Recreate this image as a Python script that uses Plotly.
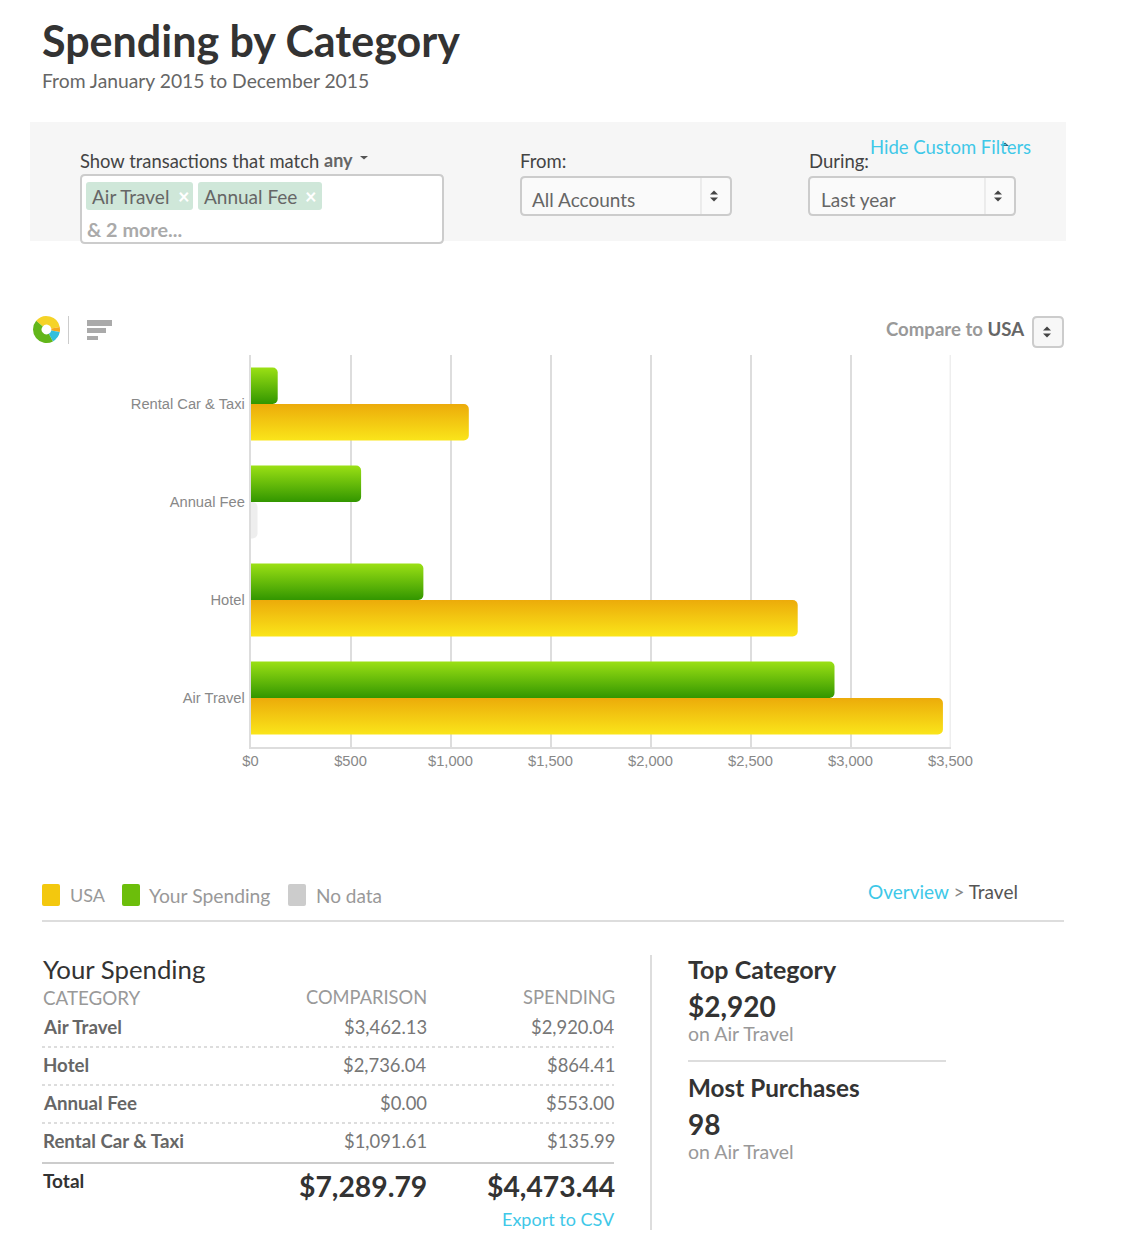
"""Spending by Category: dashboard screenshot rebuilt as one Plotly figure."""

import plotly.graph_objects as go

W, H = 1148, 1260
UI_FONT = "Lato"
CHART_FONT = "Liberation Sans"
CYAN = "#3fc8e8"

categories = ["Air Travel", "Hotel", "Annual Fee", "Rental Car & Taxi"]
usa_values = [3462.13, 2736.04, 0.00, 1091.61]
your_spending = [2920.04, 864.41, 553.00, 135.99]
no_data_values = [None, None, 35, None]
x_ticks = [0, 500, 1000, 1500, 2000, 2500, 3000, 3500]
x_tick_labels = ["$0", "$500", "$1,000", "$1,500", "$2,000", "$2,500", "$3,000", "$3,500"]
usa_total = "$7,289.79"
spending_total = "$4,473.44"
donut_values = [36, 6, 14, 44]
donut_colors = ["#f5d327", "#f5a81c", "#35bfdc", "#62b61a"]


def px(x):
    return x / W


def py(y):
    return 1 - y / H


def money(v):
    return f"${v:,.2f}"


shapes = []
annotations = []


def rect(x0, y0, x1, y1, fill, line=None, lw=0, dash=None, layer="below"):
    shapes.append(dict(
        type="rect", xref="paper", yref="paper", layer=layer,
        x0=px(x0), x1=px(x1), y0=py(y0), y1=py(y1), fillcolor=fill,
        line=dict(color=line or fill, width=lw, dash=dash),
    ))


def round_rect(x0, y0, x1, y1, r, fill, line=None, lw=0):
    pts = [
        f"M{px(x0 + r)},{py(y0)}", f"L{px(x1 - r)},{py(y0)}",
        f"Q{px(x1)},{py(y0)} {px(x1)},{py(y0 + r)}", f"L{px(x1)},{py(y1 - r)}",
        f"Q{px(x1)},{py(y1)} {px(x1 - r)},{py(y1)}", f"L{px(x0 + r)},{py(y1)}",
        f"Q{px(x0)},{py(y1)} {px(x0)},{py(y1 - r)}", f"L{px(x0)},{py(y0 + r)}",
        f"Q{px(x0)},{py(y0)} {px(x0 + r)},{py(y0)}", "Z",
    ]
    shapes.append(dict(
        type="path", xref="paper", yref="paper", layer="below", path=" ".join(pts),
        fillcolor=fill, line=dict(color=line or fill, width=lw),
    ))


def hline(x0, x1, y, color, lw=1, dash=None):
    shapes.append(dict(
        type="line", xref="paper", yref="paper", layer="below",
        x0=px(x0), x1=px(x1), y0=py(y), y1=py(y), line=dict(color=color, width=lw, dash=dash),
    ))


def vline(x, y0, y1, color, lw=1):
    shapes.append(dict(
        type="line", xref="paper", yref="paper", layer="below",
        x0=px(x), x1=px(x), y0=py(y0), y1=py(y1), line=dict(color=color, width=lw),
    ))


def triangle(x, y, half_w, h, color):
    # h > 0 points up, h < 0 points down; y is the flat edge
    path = f"M{px(x - half_w)},{py(y)} L{px(x + half_w)},{py(y)} L{px(x)},{py(y - h)} Z"
    shapes.append(dict(
        type="path", xref="paper", yref="paper", layer="above", path=path,
        fillcolor=color, line=dict(width=0),
    ))


def updown(x, y):
    triangle(x, y - 1.5, 4, 4, "#444")
    triangle(x, y + 1.5, 4, -4, "#444")


def text(x, y, s, size=19, color="#666", anchor="left", weight="normal", font=UI_FONT):
    annotations.append(dict(
        xref="paper", yref="paper", x=px(x), y=py(y - 1), text=s, showarrow=False,
        xanchor=anchor, yanchor="middle", borderpad=0, borderwidth=0,
        font=dict(family=font, size=size, color=color, weight=weight),
    ))


# --- Header and filter panel -------------------------------------------------

text(42, 42, "Spending by Category", 43, "#333", weight="bold")
text(42, 82, "From January 2015 to December 2015", 19.3, "#666")

rect(30, 122, 1066, 241, "#f6f6f6")
text(80, 162, "Show transactions that match", 18.4, "#444")
text(324, 161, "any", 18, "#666", weight="bold")
triangle(364, 156, 4, -3.5, "#555")
round_rect(81, 175, 443, 243, 4, "white", "#ccc", 2)
round_rect(86, 182, 193, 210, 3, "#cfe7d9")
round_rect(198, 182, 322, 210, 3, "#cfe7d9")
text(92, 197, "Air Travel", 19, "#666")
text(184, 197, "×", 20, "white", "center", "bold")
text(204, 197, "Annual Fee", 19, "#666")
text(311, 197, "×", 20, "white", "center", "bold")
text(87, 230, "&amp; 2 more...", 19.8, "#aaa", weight="bold")

text(520, 162, "From:", 18.5, "#444")
round_rect(521, 177, 731, 215, 4, "#fafafa", "#ccc", 2)
vline(701, 178, 214, "#ddd", 1)
text(532, 200, "All Accounts", 19, "#666")
updown(714, 196)
text(809, 162, "During:", 18.5, "#444")
round_rect(809, 177, 1015, 215, 4, "#fafafa", "#ccc", 2)
vline(985, 178, 214, "#ddd", 1)
text(821, 200, "Last year", 19, "#666")
updown(998, 196)
text(870, 148, "Hide Custom Filters", 18.5, CYAN)
triangle(1005, 146, 4, 3.5, "#1f5f80")

# --- Chart toolbar -----------------------------------------------------------

vline(68.5, 316, 344, "#ccc", 1)
rect(87, 320, 112, 326, "#aaa")
rect(87, 328, 106, 333, "#aaa")
rect(87, 336, 98, 340, "#aaa")
text(1025, 330, '<span style="color:#999">Compare to</span> USA', 18.6, "#666", "right", "bold")
round_rect(1033, 317, 1063, 347, 4, "#f7f7f7", "#ccc", 2)
updown(1047, 332)

# --- Legend and breadcrumb ---------------------------------------------------

round_rect(42, 884, 60, 906, 2, "#f3c80e")
text(70, 896, "USA", 18, "#999")
round_rect(122, 884, 140, 906, 2, "#6cbe0b")
text(149, 896, "Your Spending", 19.3, "#999")
round_rect(288, 884, 306, 906, 2, "#cccccc")
text(316, 896, "No data", 19, "#999")
text(868, 892, f'<span style="color:{CYAN}">Overview</span> '
               '<span style="color:#888">&gt;</span> Travel', 19, "#555")
hline(42, 1064, 921, "#ddd", 2)

# --- Table -------------------------------------------------------------------

text(43, 970, "Your Spending", 25.8, "#333")
text(43, 998, "CATEGORY", 18.8, "#999")
text(427, 998, "COMPARISON", 18.3, "#999", "right")
text(615, 998, "SPENDING", 18.4, "#999", "right")
for i, name in enumerate(categories):
    row_y = 1028 + 38 * i
    text(43, row_y, name.replace("&", "&amp;"), 18.7, "#666", weight="bold")
    text(427, row_y, money(usa_values[i]), 18.4, "#777", "right")
    text(615, row_y, money(your_spending[i]), 18.4, "#777", "right")
    if i < 3:
        hline(42, 614, row_y + 19, "#bbb", 1, "dot")
hline(42, 614, 1163, "#ccc", 2)
text(43, 1181, "Total", 19, "#333", weight="bold")
text(427, 1187, usa_total, 28.3, "#333", "right", "bold")
text(615, 1187, spending_total, 28.3, "#333", "right", "bold")
text(615, 1220, "Export to CSV", 18, CYAN, "right")

vline(651, 955, 1230, "#ddd", 2)
text(688, 970, "Top Category", 25, "#333", weight="bold")
text(688, 1007, "$2,920", 28, "#333", weight="bold")
text(688, 1034, "on Air Travel", 19.5, "#999")
hline(688, 946, 1061, "#ddd", 2)
text(688, 1088, "Most Purchases", 24.3, "#333", weight="bold")
text(688, 1125, "98", 28, "#333", weight="bold")
text(688, 1152, "on Air Travel", 19.5, "#999")

# --- Bars --------------------------------------------------------------------

# plotly leaves out the gridline on the right edge of the range
shapes.append(dict(
    type="line", xref="x", yref="paper", layer="below",
    x0=3500, x1=3500, y0=py(747), y1=py(355), line=dict(color="#dddddd", width=1.5),
))

BAR_W = 0.372
fig = go.Figure()
fig.add_trace(go.Bar(
    y=categories, x=your_spending, name="Your Spending", orientation="h",
    width=BAR_W, offset=0, marker=dict(color="#6cbe0b", line=dict(width=0)),
))
fig.add_trace(go.Bar(
    y=categories, x=usa_values, name="USA", orientation="h",
    width=BAR_W, offset=-BAR_W, marker=dict(color="#f3c80e", line=dict(width=0)),
))
fig.add_trace(go.Bar(
    y=categories, x=no_data_values, name="No data", orientation="h",
    width=BAR_W, offset=-BAR_W, marker=dict(color="#eeeeee", line=dict(width=0)),
))
fig.add_trace(go.Pie(
    values=donut_values, marker=dict(colors=donut_colors, line=dict(width=0)), hole=0.36,
    sort=False, direction="clockwise", rotation=-50, textinfo="none",
    domain=dict(x=[px(33), px(60)], y=[py(343), py(316)]),
))

fig.update_layout(
    width=W, height=H, margin=dict(l=0, r=0, t=0, b=0), autosize=False,
    paper_bgcolor="white", plot_bgcolor="white", showlegend=False,
    barmode="overlay", barcornerradius=5, hovermode=False,
    shapes=shapes, annotations=annotations,
)
fig.update_xaxes(
    domain=[px(250.5), px(950.5)], range=[0, 3500], tickvals=x_ticks, ticktext=x_tick_labels,
    automargin=False, showgrid=True, gridcolor="#dddddd", gridwidth=1.5, zeroline=False,
    showline=True, linecolor="#dddddd", linewidth=1.5,
    ticks="outside", ticklen=0, tickcolor="rgba(0,0,0,0)",
    tickfont=dict(family=CHART_FONT, size=14.7, color="#888"),
)
fig.update_yaxes(
    domain=[py(747), py(355)], range=[-0.5, 3.5], automargin=False,
    showgrid=False, zeroline=False,
    showline=True, linecolor="#dddddd", linewidth=1.5,
    ticks="outside", ticklen=1, tickcolor="rgba(0,0,0,0)",
    tickfont=dict(family=CHART_FONT, size=14.7, color="#888"),
)

# Plotly bars have no gradient fill, so swap the fill on the drawn paths
GRADIENTS = """
document.body.style.margin = '0';
var gd = document.getElementById('{plot_id}');
var svg = gd.querySelector('.main-svg');
var ns = 'http://www.w3.org/2000/svg';
var defs = document.createElementNS(ns, 'defs');
function grad(id, top, bottom) {
  var g = document.createElementNS(ns, 'linearGradient');
  g.setAttribute('id', id);
  g.setAttribute('x1', '0'); g.setAttribute('y1', '0');
  g.setAttribute('x2', '0'); g.setAttribute('y2', '1');
  [[0, top], [1, bottom]].forEach(function (s) {
    var stop = document.createElementNS(ns, 'stop');
    stop.setAttribute('offset', s[0]);
    stop.setAttribute('stop-color', s[1]);
    g.appendChild(stop);
  });
  defs.appendChild(g);
}
grad('barGreen', '#9be014', '#329600');
grad('barYellow', '#ecab0a', '#fae51a');
svg.insertBefore(defs, svg.firstChild);
var layers = gd.querySelectorAll('.barlayer .trace.bars');
['barGreen', 'barYellow'].forEach(function (id, i) {
  layers[i].querySelectorAll('.point path').forEach(function (p) {
    p.style.setProperty('fill', 'url(#' + id + ')');
  });
});
"""

fig.write_html(
    "out.html",
    post_script=GRADIENTS,
    config={"responsive": False, "displayModeBar": False},
    default_width=f"{W}px",
    default_height=f"{H}px",
)
